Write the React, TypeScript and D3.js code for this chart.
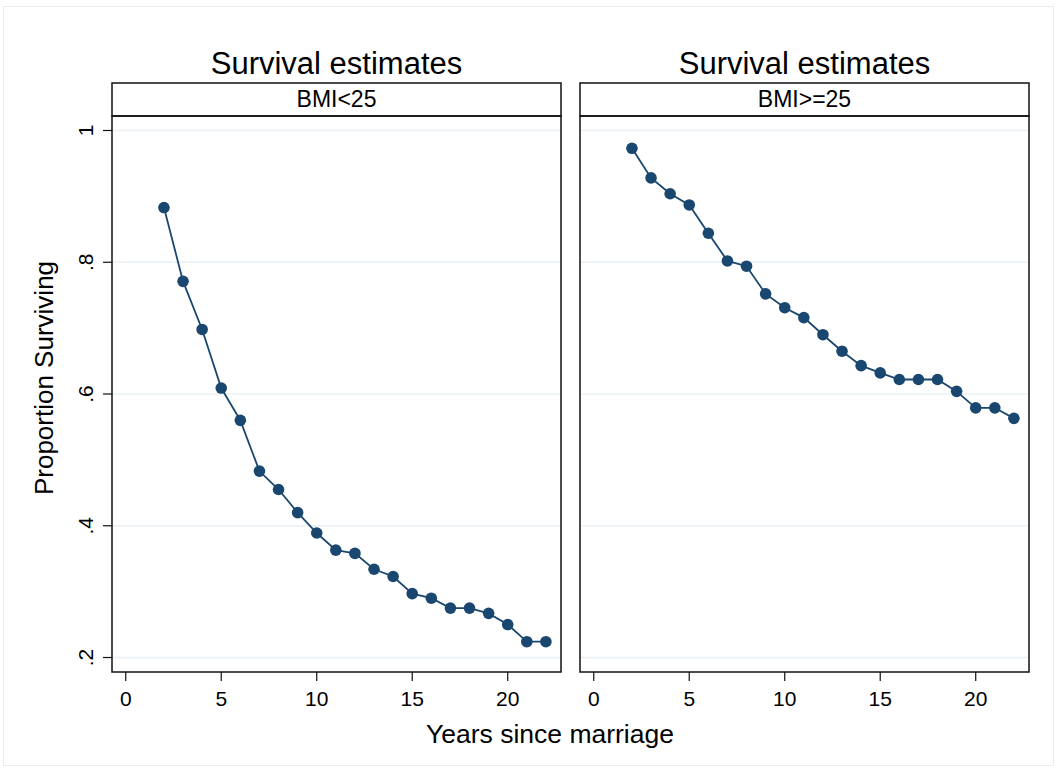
import React from "react";
import * as d3 from "d3";

const years = [2, 3, 4, 5, 6, 7, 8, 9, 10, 11, 12, 13, 14, 15, 16, 17, 18, 19, 20, 21, 22];
const bmiLow = [0.883, 0.771, 0.698, 0.609, 0.560, 0.483, 0.455, 0.420, 0.389, 0.363, 0.358, 0.334, 0.323, 0.297, 0.290, 0.275, 0.275, 0.267, 0.250, 0.224, 0.224];
const bmiHigh = [0.973, 0.928, 0.904, 0.887, 0.844, 0.802, 0.794, 0.752, 0.731, 0.716, 0.690, 0.665, 0.643, 0.632, 0.622, 0.622, 0.622, 0.604, 0.579, 0.579, 0.563];
const panelLabels = ["BMI<25", "BMI>=25"];
const panelTitle = "Survival estimates";
const xTicks = [0, 5, 10, 15, 20];
const yTicks = [0.2, 0.4, 0.6, 0.8, 1];
const yTickLabels = [".2", ".4", ".6", ".8", "1"];
const xTitle = "Years since marriage";
const yTitle = "Proportion Surviving";

const FONT = "'Liberation Sans', Arial, Helvetica, sans-serif";
const NAVY = "#1a476f";
const GRID = "#eaf0f3";

export default function App() {
  const W = 1057, H = 771;
  const top = 116, bottom = 672, stripTop = 83;
  const panels = [
    { x0: 112, x1: 561, values: bmiLow, label: panelLabels[0] },
    { x0: 580, x1: 1029, values: bmiHigh, label: panelLabels[1] },
  ];
  const y = d3.scaleLinear().domain([0.178, 1.022]).range([bottom, top]);

  return (
    <svg width={W} height={H} style={{ position: "absolute", left: 0, top: 0, background: "#fff" }} fontFamily={FONT}>
      <rect x={0} y={0} width={W} height={H} fill="#fff" />
      <rect x={3.5} y={6.5} width={W - 7} height={H - 12} fill="none" stroke="#e6eeee" strokeWidth={1} />
      {panels.map((p, pi) => {
        const x = d3.scaleLinear().domain([-0.72, 22.79]).range([p.x0, p.x1]);
        const line = d3.line<number>()
          .x((_, i) => x(years[i]))
          .y((d) => y(d));
        const cx = (p.x0 + p.x1) / 2;
        return (
          <g key={pi}>
            <text x={cx} y={74} textAnchor="middle" fontSize={31} fill="#000">{panelTitle}</text>
            <rect x={p.x0} y={stripTop} width={p.x1 - p.x0} height={top - stripTop} fill="#fff" stroke="#111" strokeWidth={1.5} />
            <text x={cx} y={107} textAnchor="middle" fontSize={23} fill="#000">{p.label}</text>
            {yTicks.map((t) => (
              <line key={t} x1={p.x0} x2={p.x1} y1={y(t)} y2={y(t)} stroke={GRID} strokeWidth={1.5} />
            ))}
            <path d={line(p.values) || ""} fill="none" stroke={NAVY} strokeWidth={1.8} />
            {p.values.map((v, i) => (
              <circle key={i} cx={x(years[i])} cy={y(v)} r={5.8} fill={NAVY} />
            ))}
            <rect x={p.x0} y={top} width={p.x1 - p.x0} height={bottom - top} fill="none" stroke="#111" strokeWidth={1.5} />
            {xTicks.map((t) => (
              <g key={t}>
                <line x1={x(t)} x2={x(t)} y1={bottom} y2={681} stroke="#111" strokeWidth={1.2} />
                <text x={x(t)} y={706} textAnchor="middle" fontSize={21} fill="#000">{t}</text>
              </g>
            ))}
            {pi === 0 && yTicks.map((t, i) => (
              <g key={t}>
                <line x1={103} x2={p.x0} y1={y(t)} y2={y(t)} stroke="#111" strokeWidth={1.2} />
                <text transform={`translate(93,${y(t)}) rotate(-90)`} textAnchor="middle" fontSize={21} fill="#000">{yTickLabels[i]}</text>
              </g>
            ))}
          </g>
        );
      })}
      <text x={550} y={743} textAnchor="middle" fontSize={26.5} fill="#000">{xTitle}</text>
      <text transform={`translate(53,378) rotate(-90)`} textAnchor="middle" fontSize={26} fill="#000">{yTitle}</text>
    </svg>
  );
}
